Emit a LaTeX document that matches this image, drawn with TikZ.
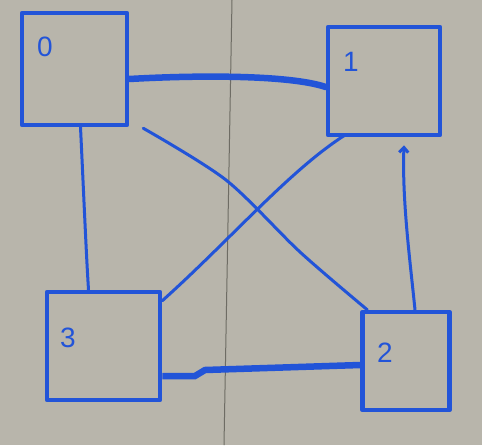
\documentclass[tikz,border=0pt]{standalone}
\usepackage{fontspec}
\setmainfont{Liberation Sans}
\usetikzlibrary{arrows.meta}
\definecolor{board}{RGB}{184,181,171}
\definecolor{marker}{RGB}{34,84,216}
\definecolor{seam}{RGB}{110,108,100}
\tikzset{
  box/.style={draw=marker, line width=4.5pt, line join=round, inner sep=0pt},
  lbl/.style={text=marker, font=\fontsize{28}{30}\selectfont, inner sep=0pt},
  thinedge/.style={draw=marker, line width=3pt, line cap=round},
  thickedge/.style={draw=marker, line width=6.5pt, line cap=round},
}
\begin{document}
\begin{tikzpicture}[x=1pt,y=-1pt]
\fill[board] (0,0) rectangle (482,445);
\useasboundingbox (0,0) rectangle (482,445);
% seam of the board
\draw[seam, line width=1pt] (232,0) -- (224,445);
% boxes
\node[box, minimum width=105pt, minimum height=112pt] (n0) at (74.5,69) {};
\node[box, minimum width=112pt, minimum height=108pt] (n1) at (384,81) {};
\node[box, minimum width=113pt, minimum height=108pt] (n3) at (103.5,346) {};
\node[box, minimum width=87pt, minimum height=98pt] (n2) at (406,361) {};
% labels
\node[lbl] (l0) at (45,47) {0};
\node[lbl] (l1) at (351,62) {1};
\node[lbl] (l3) at (68,338) {3};
\node[lbl] (l2) at (385,353) {2};
% connectors
\draw[thickedge] ([yshift=-10pt]n0.east) .. controls (200,75) and (290,75) .. ([yshift=-6pt]n1.west);
\draw[thinedge] ([xshift=6pt]n0.south) .. controls (84,200) and (86,250) .. ([xshift=-15pt]n3.north);
\draw[thinedge] plot[smooth, tension=0.5] coordinates {([xshift=14pt,yshift=-1pt]n0.south east) (226,180) (300,252) ([xshift=7pt]n2.north west)};
\draw[thinedge] ([xshift=19pt,yshift=2pt]n1.south west) .. controls (290,170) and (230,240) .. ([yshift=-11pt]n3.north east);
\draw[thinedge, -{Straight Barb[length=5pt,width=9pt]}] ([xshift=9pt]n2.north) .. controls (410,260) and (402,200) .. ([xshift=20pt,yshift=-8pt]n1.south);
\draw[thickedge, line cap=butt] ([yshift=-30pt]n3.east) -- (195,376) -- (205,370) -- ([yshift=-4pt]n2.west);
\end{tikzpicture}
\end{document}
